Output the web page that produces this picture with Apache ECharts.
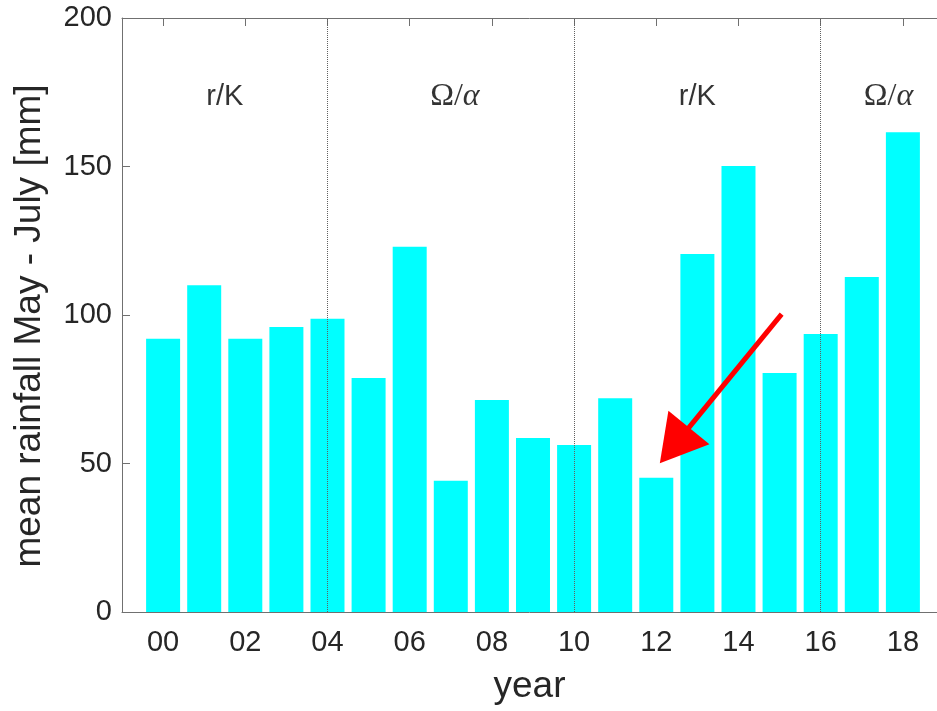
<!DOCTYPE html>
<html>
<head>
<meta charset="utf-8">
<script src="https://cdn.jsdelivr.net/npm/echarts@6/dist/echarts.min.js"></script>
<style>
html,body{margin:0;padding:0;background:#fff;}
#chart{width:937px;height:711px;}
</style>
</head>
<body>
<div id="chart"></div>
<script>
// ---- data ----
const years = ['00','01','02','03','04','05','06','07','08','09','10','11','12','13','14','15','16','17','18'];
const rainfall = [92, 110, 92, 96, 98.7, 78.8, 123, 44.2, 71.4, 58.6, 56.2, 72, 45.2, 120.5, 150.2, 80.5, 93.6, 112.8, 161.5];
const xTickLabels = ['00','02','04','06','08','10','12','14','16','18'];
const yTicks = [0, 50, 100, 150, 200];
const xRange = [-1, 18.83];   // visible part of the year axis (right side is cut off in the original)
const periodBoundaries = [4, 10, 16];
const periodLabels = ['r/K', 'Ω/α', 'r/K', 'Ω/α'];
const periodLabelX = [1.5, 7.1, 13, 17.65];
const periodLabelY = 173.5;
const arrowStart = [15.05, 100.3];
const arrowHeadCenter = [12.44, 56.1];

const xTickValues = xTickLabels.map(s => parseInt(s, 10));
const fmtYear = v => String(v).padStart(2, '0');

const axisColor = '#707070';
const textColor = '#262626';
const font = 'Liberation Sans, Arial, Helvetica, sans-serif';
const serif = 'Liberation Serif, Times New Roman, serif';

const chart = echarts.init(document.getElementById('chart'), null, {renderer: 'canvas'});

const option = {
  animation: false,
  backgroundColor: '#ffffff',
  grid: {left: 122, top: 18, right: 0, bottom: 99, containLabel: false},
  xAxis: [
    {
      type: 'value', position: 'bottom', min: xRange[0], max: xRange[1],
      name: 'year', nameLocation: 'middle', nameGap: 56,
      nameTextStyle: {fontFamily: font, fontSize: 37, color: textColor, padding: [0, 0, 0, 0]},
      axisLine: {show: true, onZero: false, lineStyle: {color: axisColor, width: 1}},
      axisTick: {show: true, inside: true, length: 8, customValues: xTickValues, lineStyle: {color: axisColor}},
      axisLabel: {show: true, customValues: xTickValues, formatter: fmtYear, fontFamily: font, fontSize: 29, color: textColor, margin: 16},
      splitLine: {show: false}
    },
    {
      type: 'value', position: 'top', min: xRange[0], max: xRange[1],
      axisLine: {show: true, onZero: false, lineStyle: {color: axisColor, width: 1}},
      axisTick: {show: true, inside: true, length: 8, customValues: xTickValues, lineStyle: {color: axisColor}},
      axisLabel: {show: false},
      splitLine: {show: false}
    }
  ],
  yAxis: {
    type: 'value', min: yTicks[0], max: yTicks[yTicks.length - 1], interval: 50,
    name: 'mean rainfall May - July [mm]', nameLocation: 'middle', nameGap: 74, nameRotate: 90,
    nameTextStyle: {fontFamily: font, fontSize: 37, color: textColor, padding: [0, 22, 0, 0]},
    axisLine: {show: true, onZero: false, lineStyle: {color: axisColor, width: 1}},
    axisTick: {show: true, inside: true, length: 8, lineStyle: {color: axisColor}},
    axisLabel: {fontFamily: font, fontSize: 29, color: textColor, margin: 10},
    splitLine: {show: false}
  },
  series: [
    {
      type: 'bar',
      xAxisIndex: 0,
      barWidth: 34,
      itemStyle: {color: '#00ffff'},
      data: years.map((y, i) => [parseInt(y, 10), rainfall[i]]),
      silent: true
    },
    {
      type: 'scatter',
      xAxisIndex: 0,
      symbolSize: 0,
      silent: true,
      z: 5,
      data: periodLabels.map((t, i) => ({value: [periodLabelX[i], periodLabelY], name: t})),
      label: {
        show: true, position: 'inside',
        formatter: p => p.name === 'r/K' ? '{s|r/K}' : '{o|Ω/}{a|α}',
        rich: {
          s: {fontFamily: font, fontSize: 29, color: '#000'},
          o: {fontFamily: serif, fontSize: 32, color: '#000'},
          a: {fontFamily: serif, fontSize: 32, fontStyle: 'italic', color: '#000'}
        }
      },
      markLine: {
        silent: true,
        animation: false,
        symbol: ['none', 'none'],
        label: {show: false},
        emphasis: {disabled: true},
        lineStyle: {type: 'dotted', color: '#606060', width: 1},
        data: periodBoundaries.map(v => ({xAxis: v}))
      }
    },
    {
      type: 'scatter',
      xAxisIndex: 0,
      symbolSize: 0,
      silent: true,
      z: 6,
      data: [],
      markLine: {
        silent: true,
        animation: false,
        label: {show: false},
        emphasis: {disabled: true},
        lineStyle: {type: 'solid', color: '#ff0000', width: 5},
        data: [[
          {coord: arrowStart, symbol: 'none'},
          {coord: arrowHeadCenter, symbol: 'triangle', symbolSize: [53, 46]}
        ]]
      }
    }
  ]
};
chart.setOption(option);
</script>
</body>
</html>
